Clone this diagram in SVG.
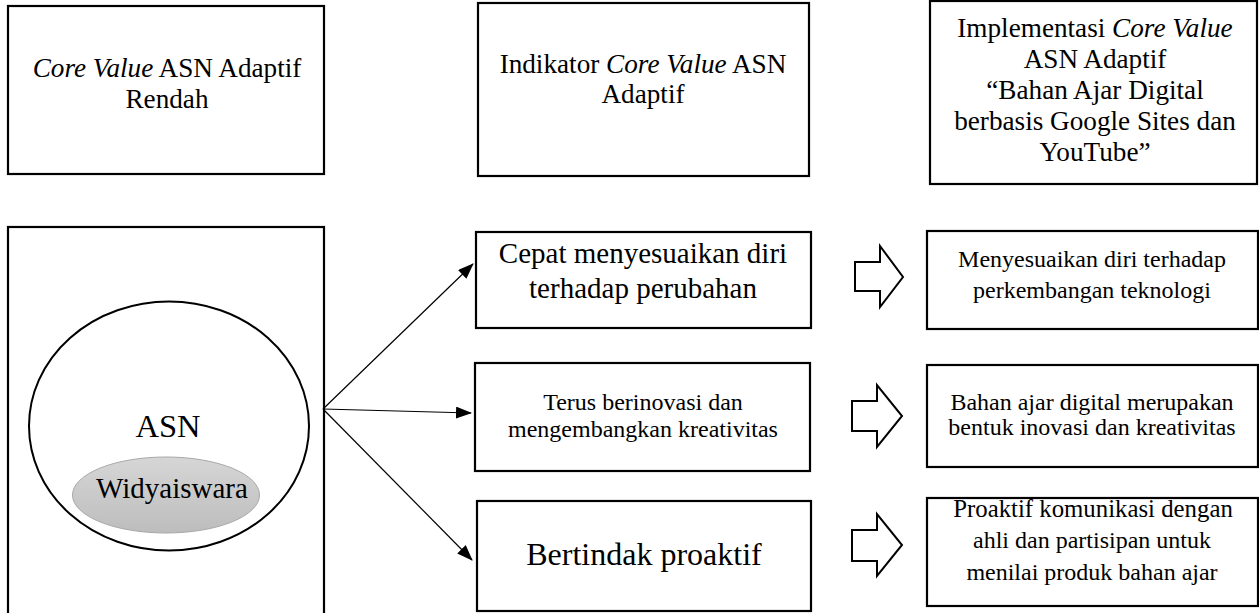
<svg xmlns="http://www.w3.org/2000/svg" width="1259" height="613" viewBox="0 0 1259 613">
<defs>
<style>
.box{fill:#fff;stroke:#000;stroke-width:2.2}
.t{font-family:'Liberation Serif',Tinos,'DejaVu Serif',serif;fill:#000;text-anchor:middle}
.h{font-size:27.2px}
.s{font-size:24px}
.con{stroke:#000;stroke-width:1.2;fill:none}
.blk{fill:#fff;stroke:#000;stroke-width:2;stroke-linejoin:miter}
</style>
<marker id="ah" viewBox="0 0 16 12" refX="15" refY="6" markerWidth="16" markerHeight="12" markerUnits="userSpaceOnUse" orient="auto">
<path d="M0,0 L16,6 L0,12 Z" fill="#000"/>
</marker>
<linearGradient id="gg" x1="0" y1="0" x2="0" y2="1">
<stop offset="0" stop-color="#d6d6d6"/>
<stop offset="1" stop-color="#bdbdbd"/>
</linearGradient>
</defs>
<rect width="1259" height="613" fill="#fff"/>

<g id="head1">
<rect class="box" x="8" y="6" width="316" height="168"/>
<text class="t h" x="167" y="77"><tspan font-style="italic">Core Value</tspan> ASN Adaptif</text>
<text class="t h" x="167" y="108">Rendah</text>
</g>

<g id="head2">
<rect class="box" x="478" y="3" width="331" height="173"/>
<text class="t h" x="643" y="73">Indikator <tspan font-style="italic">Core Value</tspan> ASN</text>
<text class="t h" x="643" y="103">Adaptif</text>
</g>

<g id="head3">
<rect class="box" x="930" y="1" width="327" height="183"/>
<text class="t h" x="1095" y="37">Implementasi <tspan font-style="italic">Core Value</tspan></text>
<text class="t h" x="1095" y="68">ASN Adaptif</text>
<text class="t h" x="1095" y="99">“Bahan Ajar Digital</text>
<text class="t h" x="1095" y="130">berbasis Google Sites dan</text>
<text class="t h" x="1095" y="161">YouTube”</text>
</g>

<g id="asn">
<rect class="box" x="8" y="227" width="316" height="400"/>
<ellipse cx="169" cy="426" rx="140" ry="124.5" fill="#fff" stroke="#000" stroke-width="2"/>
<text class="t" font-size="32.5" x="168" y="437">ASN</text>
<g id="widyaiswara">
<ellipse cx="166" cy="495" rx="93.5" ry="38" fill="url(#gg)" stroke="#a8a8a8" stroke-width="1"/>
<text class="t" font-size="29" x="172" y="498">Widyaiswara</text>
</g>
</g>

<g id="ind1">
<rect class="box" x="476" y="232" width="335" height="96"/>
<text class="t" font-size="29" x="643" y="263">Cepat menyesuaikan diri</text>
<text class="t" font-size="29" x="643" y="298">terhadap perubahan</text>
</g>

<g id="ind2">
<rect class="box" x="475" y="363" width="335" height="108"/>
<text class="t s" x="643" y="410">Terus berinovasi dan</text>
<text class="t s" x="643" y="437">mengembangkan kreativitas</text>
</g>

<g id="ind3">
<rect class="box" x="477" y="501" width="334" height="110"/>
<text class="t" font-size="32" x="644" y="565">Bertindak proaktif</text>
</g>

<g id="impl1">
<rect class="box" x="927" y="231" width="331" height="98"/>
<text class="t s" x="1092" y="267">Menyesuaikan diri terhadap</text>
<text class="t s" x="1092" y="298">perkembangan teknologi</text>
</g>

<g id="impl2">
<rect class="box" x="927" y="365" width="331" height="102"/>
<text class="t s" x="1092" y="410">Bahan ajar digital merupakan</text>
<text class="t s" x="1092" y="435">bentuk inovasi dan kreativitas</text>
</g>

<g id="impl3">
<rect class="box" x="927" y="498" width="331" height="108"/>
<text class="t" font-size="24.8" x="1093" y="517">Proaktif komunikasi dengan</text>
<text class="t s" x="1092" y="548">ahli dan partisipan untuk</text>
<text class="t s" x="1092" y="580">menilai produk bahan ajar</text>
</g>

<g id="connectors">
<line class="con" x1="323" y1="409" x2="473" y2="264" marker-end="url(#ah)"/>
<line class="con" x1="323" y1="409" x2="471" y2="413" marker-end="url(#ah)"/>
<line class="con" x1="323" y1="409" x2="472" y2="560" marker-end="url(#ah)"/>
<path class="blk" d="M855,262 L880,262 L880,246 L903,277 L880,307 L880,291 L855,291 Z"/>
<path class="blk" d="M852,401 L877,401 L877,385 L902,416 L877,447 L877,431 L852,431 Z"/>
<path class="blk" d="M852,530 L877,530 L877,514 L902,545 L877,576 L877,561 L852,561 Z"/>
</g>
</svg>
